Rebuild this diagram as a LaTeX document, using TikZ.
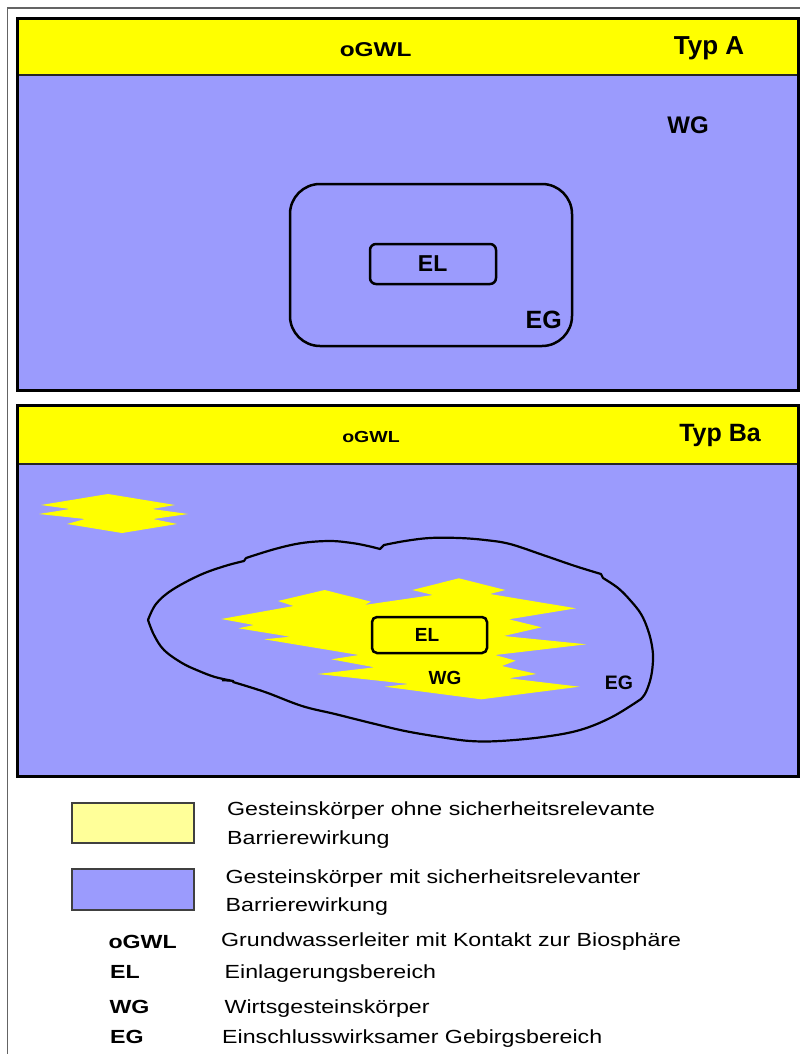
\documentclass[tikz,border=0pt]{standalone}
\usepackage{fontspec}
\setmainfont{Liberation Sans}
\newfontfamily\legfont[FakeStretch=1.22]{Liberation Sans}
\newcommand\fsz[1]{\fontsize{#1}{#1}\selectfont}
\definecolor{rockblue}{RGB}{155,155,253}
\definecolor{rockyellow}{RGB}{255,255,0}
\definecolor{legyellow}{RGB}{255,255,153}
\definecolor{framegray}{RGB}{100,100,100}
\tikzset{
  panelborder/.style={draw=black, line width=3pt},
  sepline/.style={draw=black!85, line width=2pt},
  outline/.style={draw=black, line width=2.5pt},
  lbl/.style={inner sep=0pt, anchor=base, font=\bfseries},
  legtxt/.style={inner sep=0pt, anchor=base west, font=\legfont},
  leglbl/.style={inner sep=0pt, anchor=base west, font=\legfont\bfseries},
  legbox/.style={draw=black!75, line width=1.5pt},
}
\begin{document}
\begin{tikzpicture}[x=1pt, y=-1pt]
\useasboundingbox (0,0) rectangle (800,1054);
\fill[white] (0,0) rectangle (800,1054);
% outer gray frame
\draw[framegray, line width=1.5pt] (7.5,1054) -- (7.5,8) -- (800,8);

% ---------------- Panel A ----------------
\fill[rockyellow] (17.5,19) rectangle (798.5,75);
\fill[rockblue] (17.5,75) rectangle (798.5,390);
\draw[sepline] (17.5,75) -- (798.5,75);
\draw[panelborder] (17.5,19) rectangle (798.5,390);
\draw[outline, rounded corners=30pt] (290,184) rectangle (572,346);
\draw[outline, rounded corners=6pt] (370,244) rectangle (496,284);
\node[lbl] (oA) at (375.7,56.7) {\fsz{20}\legfont\bfseries oGWL};
\node[lbl] (typA) at (709,55) {\fsz{26}Typ A};
\node[lbl] (wgA) at (688,133.3) {\fsz{24}WG};
\node[lbl] (elA) at (432.6,271.7) {\fsz{23}EL};
\node[lbl] (egA) at (543.8,328.3) {\fsz{25}EG};

% ---------------- Panel B ----------------
\fill[rockyellow] (17.5,405.5) rectangle (798.5,464);
\fill[rockblue] (17.5,464) rectangle (798.5,776);
\draw[sepline] (17.5,464) -- (798.5,464);
\draw[panelborder] (17.5,405.5) rectangle (798.5,776);

% small yellow blob
\fill[rockyellow] (108,494) -- (175,505) -- (152,509) -- (188,514) -- (153,519)
  -- (177,524) -- (122,533) -- (67,524) -- (85,519) -- (39,514) -- (70,509)
  -- (41,505) -- cycle;

% big yellow blob (WG)
\fill[rockyellow] (324.6,590) -- (371,601.7) -- (364.2,605) -- (433,595)
  -- (412.4,590) -- (458.9,578.3) -- (505.3,590) -- (489.9,594)
  -- (575.9,608.3) -- (508.8,619.3) -- (541.5,627.3) -- (503.6,636)
  -- (586.3,644.3) -- (495,655) -- (515.7,660.7) -- (501.9,666)
  -- (536.3,674) -- (508.8,678.3) -- (579.4,686.7) -- (481.2,699.3)
  -- (384.8,686.7) -- (408.9,684) -- (317.7,674) -- (374.5,667.3)
  -- (331.4,659.3) -- (359,655) -- (264.3,639.3) -- (290.1,636.7)
  -- (238.5,628.3) -- (254,625) -- (221.3,619) -- (293.6,606)
  -- (278.1,601) -- cycle;

% EG irregular outline
\draw[black, line width=2.2pt, line join=round, line cap=round]
  plot[smooth, tension=0.6] coordinates {(148,620) (156,604) (172,590) (200,575) (225,566) (244,561)}
  -- (246,558)
  plot[smooth, tension=0.6] coordinates {(246,558) (275,549) (302,543) (330,541) (352,543) (368,546) (380,549)}
  -- (384,545)
  plot[smooth, tension=0.6] coordinates {(384,545) (405,541) (430,538) (459,538) (485,540) (510,544) (543,555) (575,566) (601,574)}
  -- (603,578)
  plot[smooth, tension=0.6] coordinates {(603,578) (618,588) (630,600) (641,614) (648,630) (652,646) (653,660) (651,677) (646,692) (641,699)}
  plot[smooth, tension=0.6] coordinates {(641,699) (612,717) (580,730) (543,737) (500,741) (470,741) (440,737) (405,731) (371,723) (335,714) (302,706) (265,692) (233,682)};
\draw[black, line width=2.2pt, line cap=round]
  plot[smooth, tension=0.6] coordinates {(233,681) (215,677) (199,671) (182,663) (164,650) (154,635) (148,620)};
\draw[black, line width=1.6pt] (222,680.5) -- (234,681);

\draw[outline, fill=rockyellow, rounded corners=5pt] (372,617) rectangle (487,653);
\node[lbl] (oB) at (371,442.3) {\fsz{16}\legfont\bfseries oGWL};
\node[lbl] (typB) at (720,441.7) {\fsz{25}Typ Ba};
\node[lbl] (elB) at (427,641) {\fsz{19}EL};
\node[lbl] (wgB) at (445,684) {\fsz{19}WG};
\node[lbl] (egB) at (619,689) {\fsz{19.5}EG};

% ---------------- Legend ----------------
\draw[legbox, fill=legyellow] (72,803) rectangle (194,843);
\draw[legbox, fill=rockblue] (72,869) rectangle (194,910);
\node[legtxt] (t1) at (227,815) {\fsz{19}Gesteinskörper ohne sicherheitsrelevante};
\node[legtxt] (t2) at (227,844) {\fsz{19}Barrierewirkung};
\node[legtxt] (t3) at (225.5,883.3) {\fsz{19}Gesteinskörper mit sicherheitsrelevanter};
\node[legtxt] (t4) at (225.5,911.7) {\fsz{19}Barrierewirkung};
\node[leglbl] (l5) at (108.3,948.3) {\fsz{19}oGWL};
\node[legtxt] (t5) at (221,946.7) {\fsz{19}Grundwasserleiter mit Kontakt zur Biosphäre};
\node[leglbl] (l6) at (110,978) {\fsz{19}EL};
\node[legtxt] (t6) at (224.5,978.3) {\fsz{19}Einlagerungsbereich};
\node[leglbl] (l7) at (109.3,1013) {\fsz{19}WG};
\node[legtxt] (t7) at (224.5,1013) {\fsz{19}Wirtsgesteinskörper};
\node[leglbl] (l8) at (110,1043.3) {\fsz{19}EG};
\node[legtxt] (t8) at (222,1043.3) {\fsz{19}Einschlusswirksamer Gebirgsbereich};
\end{tikzpicture}
\end{document}
